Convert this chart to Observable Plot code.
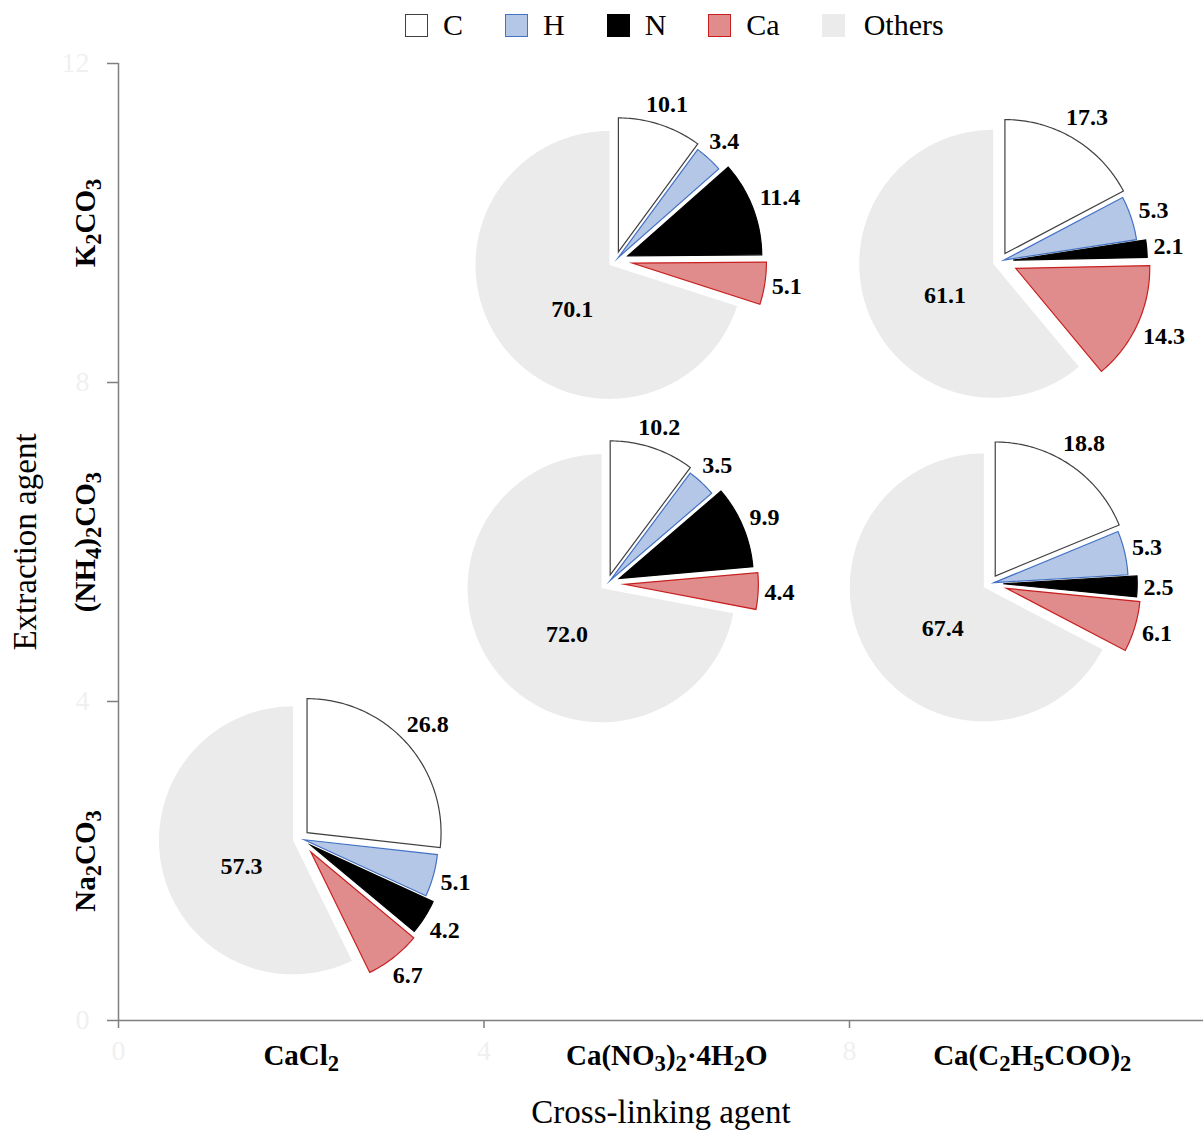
<!DOCTYPE html>
<html><head><meta charset="utf-8">
<script src="https://cdn.jsdelivr.net/npm/d3@7"></script>
<script src="https://cdn.jsdelivr.net/npm/@observablehq/plot@0.6"></script>
<style>
body{margin:0;background:#fff;font-family:"Liberation Serif","Times New Roman",serif;}
#legend{height:50px;width:1203px;display:flex;align-items:center;padding-left:405px;box-sizing:border-box;}
.item{display:flex;align-items:center;font-size:30px;color:#000;margin-right:42px;}
.sw{width:23px;height:23px;box-sizing:border-box;margin-right:15px;}
#chart svg{display:block;}
</style></head><body>
<div id="legend"></div>
<div id="chart"></div>
<script>
// ---------- data ----------
const elements = ["C", "H", "N", "Ca", "Others"];
const crossLinkers = ["CaCl₂", "Ca(NO₃)₂·4H₂O", "Ca(C₂H₅COO)₂"];
const extractors = ["Na₂CO₃", "(NH₄)₂CO₃", "K₂CO₃"];
const xTicks = [0, 4, 8];
const yTicks = [0, 4, 8, 12];
const catPos = [2, 6, 10];
// samples: CaCl2/Na2CO3, Ca(NO3)2/(NH4)2CO3, Ca(NO3)2/K2CO3, Ca(C2H5COO)2/(NH4)2CO3, Ca(C2H5COO)2/K2CO3
const valC      = [26.8, 10.2, 10.1, 18.8, 17.3];
const valH      = [5.1, 3.5, 3.4, 5.3, 5.3];
const valN      = [4.2, 9.9, 11.4, 2.5, 2.1];
const valCa     = [6.7, 4.4, 5.1, 6.1, 14.3];
const valOthers = [57.3, 72.0, 70.1, 67.4, 61.1];

// ---------- layout ----------
const pieCx = [1.99, 5.35, 5.44, 9.54, 9.65];
const pieCy = [2.28, 5.48, 9.53, 5.48, 9.52];
const R = 134;                       // px
const explode = [9, 4, 13, 17, 7.5]; // px per element
const fills = ["#ffffff", "#b4c7e7", "#000000", "#e08c8c", "#ebebeb"];
const strokes = ["#404040", "#4472c4", "#000000", "#c82020", "none"];
const W = 1203, H = 1081, mL = 118, mR = 0, mT = 13, mB = 111;
const xMax = (W - mL - mR) / 91.375, yMax = 12;
const kx = (W - mL - mR) / xMax, ky = (H - mT - mB) / yMax;
const FS = 24;

// ---------- geometry ----------
const series = [valC, valH, valN, valCa, valOthers];
const pts = [], labels = [];
for (let s = 0; s < valC.length; s++) {
  const vals = series.map(a => a[s]);
  const total = d3.sum(vals);
  const toData = (px, py) => ({x: pieCx[s] + px / kx, y: pieCy[s] - py / ky});
  let cum = 0;
  vals.forEach((v, j) => {
    const a0 = cum / total * 2 * Math.PI; cum += v;
    const a1 = cum / total * 2 * Math.PI;
    const am = (a0 + a1) / 2;
    const e = explode[j];
    const ox = Math.sin(am) * e, oy = -Math.cos(am) * e;
    const key = s + "-" + j, elem = elements[j];
    pts.push({key, elem, ...toData(ox, oy)});
    const n = Math.max(2, Math.ceil((a1 - a0) / (Math.PI / 180)));
    for (let k = 0; k <= n; k++) {
      const a = a0 + (a1 - a0) * k / n;
      pts.push({key, elem, ...toData(ox + R * Math.sin(a), oy - R * Math.cos(a))});
    }
    const txt = v.toFixed(1);
    if (j < 4) {
      const hw = ((txt.length - 1) * 0.5 + 0.25) * FS / 2, hh = 0.4 * FS;
      const d = R + e + hw * Math.abs(Math.sin(am)) + hh * Math.abs(Math.cos(am)) + 6;
      labels.push({text: txt, ...toData(Math.sin(am) * d, -Math.cos(am) * d)});
    } else {
      const a = am - 12 * Math.PI / 180, d = 65;
      labels.push({text: txt, ...toData(Math.sin(a) * d, -Math.cos(a) * d)});
    }
  });
}

// ---------- legend ----------
const leg = document.getElementById("legend");
elements.forEach((el, j) => {
  const it = document.createElement("div"); it.className = "item";
  const sw = document.createElement("div"); sw.className = "sw";
  sw.style.background = fills[j];
  sw.style.border = strokes[j] === "none" ? "none" : `1.5px solid ${strokes[j]}`;
  if (el === "Others") sw.style.marginRight = "19px";
  const lb = document.createElement("span"); lb.textContent = el;
  it.append(sw, lb); leg.append(it);
});

// ---------- plot ----------
const axisColor = "#7f7f7f", faint = "#f0f0f0";
const plot = Plot.plot({
  width: W, height: H, marginLeft: mL, marginRight: mR, marginTop: mT, marginBottom: mB,
  x: {domain: [0, xMax]},
  y: {domain: [0, yMax]},
  style: {fontFamily: "'Liberation Serif','Times New Roman',serif", background: "white", overflow: "visible"},
  marks: [
    ...elements.map((el, j) => Plot.line(pts.filter(d => d.elem === el), {
      x: "x", y: "y", z: "key", curve: "linear-closed",
      fill: fills[j], stroke: strokes[j], strokeWidth: 1.2,
      strokeLinejoin: "miter", strokeMiterlimit: 10
    })),
    Plot.text(labels, {x: "x", y: "y", text: "text", fontSize: FS, fontWeight: "bold", fill: "#000"}),
    Plot.axisY(yTicks, {tickSize: 11, tickPadding: 18, stroke: axisColor, strokeWidth: 1.5, fill: faint, fontSize: 28, label: null, tickFormat: d => String(d)}),
    Plot.axisX(xTicks, {tickSize: 8, tickPadding: 12, stroke: axisColor, strokeWidth: 1.5, fill: faint, fontSize: 28, label: null, tickFormat: d => String(d)}),
    Plot.axisX(catPos, {tickSize: 0, tickPadding: 24, fill: "#000", fontSize: 29, fontWeight: "bold", label: null,
      tickFormat: d => crossLinkers[catPos.indexOf(d)]}),
    Plot.text(catPos, {y: d => d, text: d => extractors[catPos.indexOf(d)], frameAnchor: "left", dx: -33, rotate: -90,
      textAnchor: "middle", lineAnchor: "middle", fontSize: 29, fontWeight: "bold", fill: "#000"}),
    Plot.ruleY([0], {stroke: axisColor, strokeWidth: 1.5}),
    Plot.ruleX([0], {stroke: axisColor, strokeWidth: 1.5}),
    Plot.text(["Extraction agent"], {frameAnchor: "left", dx: -93, rotate: -90, textAnchor: "middle", lineAnchor: "middle", fontSize: 33, fill: "#000"}),
    Plot.text(["Cross-linking agent"], {frameAnchor: "bottom", dy: 92, textAnchor: "middle", lineAnchor: "middle", fontSize: 33, fill: "#000"})
  ]
});
document.getElementById("chart").append(plot);

// ---------- subscripts ----------
const subs = "₀₁₂₃₄₅₆₇₈₉";
plot.querySelectorAll("text").forEach(t => {
  const s = t.textContent;
  if (![...s].some(c => subs.includes(c))) return;
  const fs = parseFloat(getComputedStyle(t).fontSize) || 29;
  const shift = 0.22 * fs;
  const runs = [];
  for (const c of s) {
    const isSub = subs.includes(c);
    const ch = isSub ? String(subs.indexOf(c)) : c;
    if (runs.length && runs[runs.length - 1].sub === isSub) runs[runs.length - 1].t += ch;
    else runs.push({sub: isSub, t: ch});
  }
  while (t.firstChild) t.removeChild(t.firstChild);
  let down = false;
  runs.forEach(r => {
    const ts = document.createElementNS("http://www.w3.org/2000/svg", "tspan");
    ts.textContent = r.t;
    if (r.sub) { ts.setAttribute("font-size", (0.78 * fs) + "px"); ts.setAttribute("dy", shift); down = true; }
    else if (down) { ts.setAttribute("dy", -shift); down = false; }
    t.appendChild(ts);
  });
});
</script>
</body></html>
